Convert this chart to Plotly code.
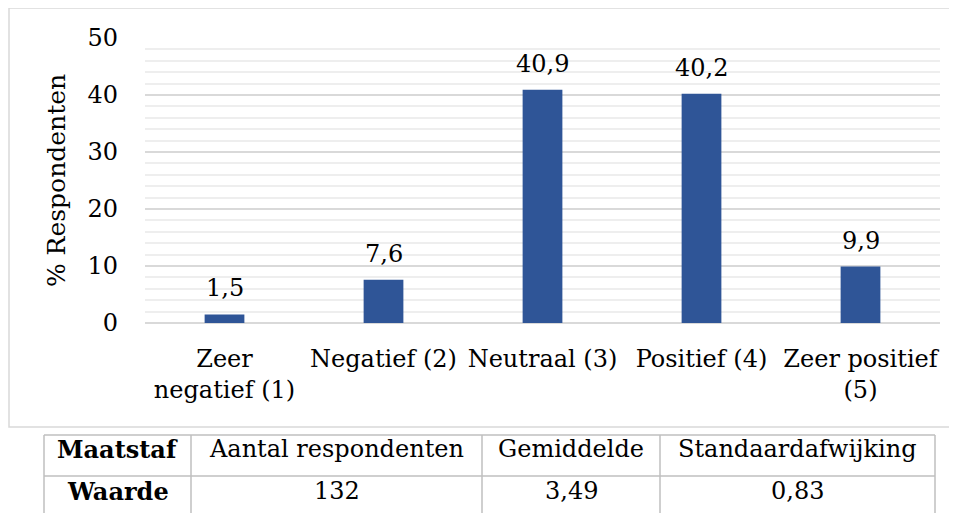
import plotly.graph_objects as go

categories = ["Zeer<br>negatief (1)", "Negatief (2)", "Neutraal (3)", "Positief (4)", "Zeer positief<br>(5)"]
percentages = [1.5, 7.6, 40.9, 40.2, 9.9]
y_ticks = [0, 10, 20, 30, 40, 50]

table_header = ["<b>Maatstaf</b>", "Aantal respondenten", "Gemiddelde", "Standaardafwijking"]
table_row = ["<b>Waarde</b>", "132", "3,49", "0,83"]

FONT = "DejaVu Serif"
W, H = 957, 513
OFF = 8  # page body margin offset
BAR = "#2f5597"
GRID = "#d9d9d9"
TLINE = "#bfbfbf"


def px(x):
    return (x - OFF) / W


def py(y):
    return 1 - (y - OFF) / H


fig = go.Figure()
fig.add_trace(go.Bar(
    x=categories, y=percentages,
    marker=dict(color=BAR, line=dict(width=0)),
    cliponaxis=False, showlegend=False,
))

shapes = [dict(type="rect", xref="paper", yref="paper",
               x0=px(9), x1=px(950), y0=py(427), y1=py(8),
               line=dict(color=GRID, width=1.5), fillcolor="rgba(0,0,0,0)",
               layer="below")]

# table grid
col_edges = [44, 191, 482, 660, 935]
row_edges = [435, 476, 517]
for yy in row_edges:
    shapes.append(dict(type="line", xref="paper", yref="paper",
                       x0=px(col_edges[0]), x1=px(col_edges[-1]), y0=py(yy), y1=py(yy),
                       line=dict(color=TLINE, width=1.5)))
for xx in col_edges:
    shapes.append(dict(type="line", xref="paper", yref="paper",
                       x0=px(xx), x1=px(xx), y0=py(row_edges[0]), y1=py(row_edges[-1]),
                       line=dict(color=TLINE, width=1.5)))

annotations = []
# value labels above bars, placed through the data axes
for cat, val in zip(categories, percentages):
    annotations.append(dict(
        xref="x", yref="y", x=cat, y=val, xanchor="center", yanchor="bottom",
        yshift=10, showarrow=False, text=f"{val:.1f}".replace(".", ","),
        font=dict(family=FONT, size=24, color="#000000")))

row_centers = [449, 491]
for r, row in enumerate([table_header, table_row]):
    for c, txt in enumerate(row):
        annotations.append(dict(
            xref="paper", yref="paper",
            x=px((col_edges[c] + col_edges[c + 1]) / 2), y=py(row_centers[r]),
            xanchor="center", yanchor="middle", showarrow=False, text=txt,
            font=dict(family=FONT, size=24, color="#000000")))

fig.update_layout(
    width=W, height=H,
    margin=dict(l=0, r=0, t=0, b=0),
    paper_bgcolor="white", plot_bgcolor="white",
    separators=",.",
    bargap=0.75,
    font=dict(family=FONT, size=24, color="#000000"),
    xaxis=dict(domain=[px(145), px(940)], range=[-0.5, 4.5], automargin=False,
               showgrid=False, showline=False, zeroline=False,
               ticks="", tickfont=dict(family=FONT, size=24),
               ticklabelstandoff=19),
    yaxis=dict(domain=[py(323), py(38)], range=[0, 50], automargin=False,
               tickvals=y_ticks, showgrid=True, gridcolor=GRID, gridwidth=1.5,
               minor=dict(dtick=2, showgrid=True, gridcolor="#eeeeee", gridwidth=1.5),
               zeroline=True, zerolinecolor=GRID, zerolinewidth=1.5,
               showline=False, ticks="", ticklabelstandoff=26,
               tickfont=dict(family=FONT, size=24),
               title=dict(text="% Respondenten", standoff=14,
                          font=dict(family=FONT, size=25))),
    shapes=shapes,
    annotations=annotations,
)

fig.write_html("out.html")
